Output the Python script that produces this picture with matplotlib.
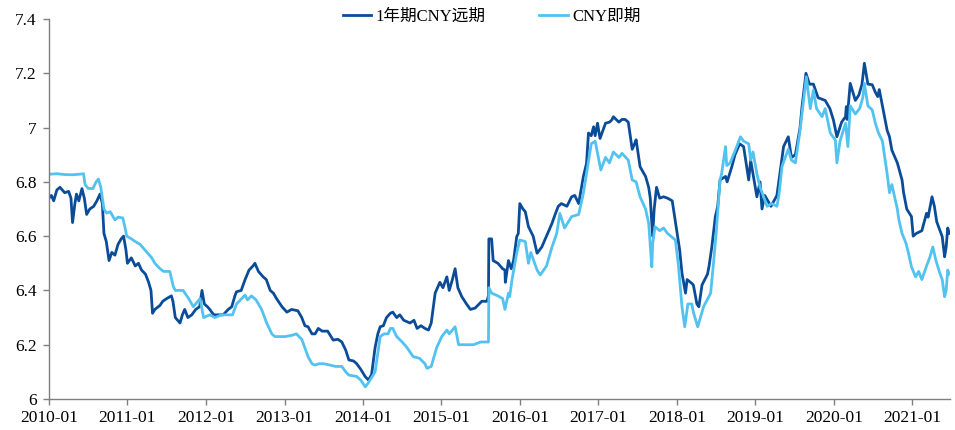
import numpy as np
import pandas as pd
import matplotlib
matplotlib.use('Agg')
import matplotlib.pyplot as plt
import matplotlib.dates as mdates

# values (decimal year, CNY per USD)
fwd_t = [2010.00, 2010.03, 2010.06, 2010.10, 2010.14, 2010.20, 2010.25, 2010.28, 2010.30, 2010.33,
         2010.35, 2010.38, 2010.42, 2010.45, 2010.48, 2010.52, 2010.57, 2010.61, 2010.65, 2010.68,
         2010.70, 2010.73, 2010.765, 2010.80, 2010.84, 2010.88, 2010.92, 2010.95, 2010.98, 2011.00,
         2011.05, 2011.10, 2011.14, 2011.18, 2011.23, 2011.27, 2011.30, 2011.32, 2011.35, 2011.415,
         2011.45, 2011.50, 2011.56, 2011.58, 2011.61, 2011.64, 2011.67, 2011.70, 2011.73, 2011.77,
         2011.82, 2011.87, 2011.92, 2011.95, 2011.98, 2012.02, 2012.05, 2012.10, 2012.16, 2012.22,
         2012.285, 2012.33, 2012.37, 2012.39, 2012.45, 2012.50, 2012.55, 2012.60, 2012.625, 2012.67,
         2012.73, 2012.77, 2012.82, 2012.86, 2012.90, 2012.97, 2013.03, 2013.09, 2013.17, 2013.22,
         2013.26, 2013.30, 2013.35, 2013.39, 2013.43, 2013.48, 2013.55, 2013.62, 2013.68, 2013.73,
         2013.78, 2013.82, 2013.88, 2013.92, 2013.97, 2014.03, 2014.07, 2014.11, 2014.155, 2014.19,
         2014.22, 2014.26, 2014.30, 2014.35, 2014.38, 2014.43, 2014.47, 2014.52, 2014.60, 2014.65,
         2014.69, 2014.74, 2014.79, 2014.835, 2014.87, 2014.92, 2014.98, 2015.02, 2015.07, 2015.10,
         2015.14, 2015.175, 2015.21, 2015.26, 2015.32, 2015.37, 2015.43, 2015.515, 2015.58, 2015.60,
         2015.605, 2015.64, 2015.66, 2015.72, 2015.78, 2015.81, 2015.815, 2015.855, 2015.89, 2015.92,
         2015.96, 2015.98, 2016.00, 2016.04, 2016.07, 2016.11, 2016.17, 2016.22, 2016.28, 2016.34,
         2016.41, 2016.45, 2016.49, 2016.53, 2016.60, 2016.66, 2016.70, 2016.75, 2016.81, 2016.85,
         2016.875, 2016.91, 2016.94, 2016.96, 2016.99, 2017.02, 2017.09, 2017.14, 2017.17, 2017.19,
         2017.26, 2017.30, 2017.34, 2017.38, 2017.43, 2017.46, 2017.48, 2017.53, 2017.60, 2017.64,
         2017.66, 2017.69, 2017.71, 2017.74, 2017.78, 2017.83, 2017.88, 2017.94, 2017.99, 2018.035,
         2018.065, 2018.11, 2018.13, 2018.19, 2018.21, 2018.255, 2018.28, 2018.32, 2018.39, 2018.41,
         2018.445, 2018.49, 2018.52, 2018.55, 2018.62, 2018.64, 2018.70, 2018.74, 2018.80, 2018.85,
         2018.915, 2018.94, 2019.02, 2019.06, 2019.085, 2019.12, 2019.20, 2019.275, 2019.36, 2019.42,
         2019.46, 2019.51, 2019.57, 2019.595, 2019.645, 2019.69, 2019.74, 2019.80, 2019.89, 2019.95,
         2019.995, 2020.04, 2020.10, 2020.15, 2020.16, 2020.17, 2020.21, 2020.275, 2020.32, 2020.36,
         2020.39, 2020.435, 2020.49, 2020.53, 2020.56, 2020.58, 2020.62, 2020.68, 2020.71, 2020.74,
         2020.81, 2020.87, 2020.89, 2020.93, 2020.99, 2021.01, 2021.05, 2021.12, 2021.18, 2021.20,
         2021.25, 2021.28, 2021.31, 2021.38, 2021.41, 2021.43, 2021.45, 2021.47]
fwd_v = [6.74, 6.75, 6.73, 6.77, 6.78, 6.76, 6.765, 6.74, 6.65, 6.72,
         6.755, 6.73, 6.775, 6.74, 6.68, 6.70, 6.71, 6.73, 6.755, 6.72,
         6.61, 6.58, 6.51, 6.54, 6.53, 6.57, 6.59, 6.60, 6.55, 6.50,
         6.52, 6.49, 6.50, 6.475, 6.46, 6.43, 6.40, 6.316, 6.33, 6.345,
         6.36, 6.37, 6.38, 6.36, 6.30, 6.29, 6.28, 6.31, 6.33, 6.30,
         6.31, 6.33, 6.34, 6.40, 6.35, 6.34, 6.33, 6.31, 6.31, 6.31,
         6.33, 6.34, 6.38, 6.395, 6.40, 6.44, 6.475, 6.49, 6.50, 6.47,
         6.45, 6.44, 6.40, 6.39, 6.37, 6.34, 6.32, 6.33, 6.325, 6.30,
         6.27, 6.266, 6.24, 6.24, 6.26, 6.25, 6.25, 6.217, 6.22, 6.21,
         6.18, 6.144, 6.14, 6.13, 6.11, 6.082, 6.07, 6.09, 6.19, 6.24,
         6.266, 6.27, 6.30, 6.316, 6.32, 6.30, 6.31, 6.29, 6.28, 6.29,
         6.26, 6.27, 6.26, 6.254, 6.28, 6.39, 6.43, 6.41, 6.45, 6.40,
         6.44, 6.48, 6.41, 6.377, 6.35, 6.33, 6.335, 6.36, 6.36, 6.38,
         6.59, 6.59, 6.51, 6.50, 6.48, 6.475, 6.43, 6.51, 6.48, 6.51,
         6.598, 6.61, 6.72, 6.70, 6.69, 6.635, 6.60, 6.537, 6.56, 6.60,
         6.647, 6.68, 6.71, 6.72, 6.71, 6.745, 6.75, 6.72, 6.82, 6.868,
         6.98, 6.97, 7.003, 6.97, 7.016, 6.96, 7.016, 7.02, 7.028, 7.04,
         7.02, 7.03, 7.03, 7.02, 6.92, 6.94, 6.955, 6.856, 6.82, 6.78,
         6.74, 6.60, 6.70, 6.78, 6.74, 6.745, 6.74, 6.73, 6.635, 6.55,
         6.463, 6.39, 6.44, 6.426, 6.42, 6.35, 6.34, 6.42, 6.46, 6.49,
         6.56, 6.672, 6.71, 6.807, 6.82, 6.80, 6.856, 6.90, 6.94, 6.93,
         6.807, 6.88, 6.745, 6.80, 6.70, 6.75, 6.71, 6.75, 6.93, 6.966,
         6.89, 6.90, 7.00, 7.077, 7.20, 7.16, 7.16, 7.11, 7.10, 7.07,
         7.028, 6.966, 7.02, 7.04, 7.077, 7.03, 7.163, 7.10, 7.12, 7.16,
         7.237, 7.16, 7.158, 7.13, 7.114, 7.14, 7.08, 6.99, 6.966, 6.917,
         6.87, 6.807, 6.76, 6.70, 6.672, 6.60, 6.61, 6.62, 6.684, 6.67,
         6.745, 6.71, 6.653, 6.598, 6.524, 6.56, 6.63, 6.61]

spot_t = [2010.00, 2010.10, 2010.20, 2010.30, 2010.38, 2010.44, 2010.46, 2010.50, 2010.56, 2010.60,
          2010.63, 2010.66, 2010.70, 2010.735, 2010.78, 2010.84, 2010.88, 2010.94, 2010.97, 2010.99,
          2011.05, 2011.10, 2011.16, 2011.22, 2011.28, 2011.31, 2011.35, 2011.415, 2011.46, 2011.54,
          2011.585, 2011.61, 2011.71, 2011.78, 2011.84, 2011.925, 2011.97, 2012.05, 2012.115, 2012.20,
          2012.28, 2012.34, 2012.39, 2012.50, 2012.53, 2012.58, 2012.64, 2012.71, 2012.775, 2012.84,
          2012.88, 2012.95, 2013.01, 2013.10, 2013.15, 2013.22, 2013.30, 2013.35, 2013.39, 2013.44,
          2013.50, 2013.58, 2013.65, 2013.73, 2013.78, 2013.82, 2013.92, 2013.97, 2014.03, 2014.07,
          2014.155, 2014.22, 2014.27, 2014.32, 2014.35, 2014.38, 2014.43, 2014.50, 2014.56, 2014.64,
          2014.72, 2014.79, 2014.815, 2014.87, 2014.94, 2015.005, 2015.07, 2015.10, 2015.175, 2015.22,
          2015.30, 2015.41, 2015.50, 2015.60, 2015.605, 2015.64, 2015.72, 2015.78, 2015.81, 2015.855,
          2015.87, 2015.90, 2015.96, 2016.00, 2016.07, 2016.11, 2016.14, 2016.22, 2016.26, 2016.34,
          2016.41, 2016.47, 2016.51, 2016.57, 2016.66, 2016.75, 2016.81, 2016.87, 2016.91, 2016.96,
          2017.03, 2017.09, 2017.14, 2017.19, 2017.26, 2017.30, 2017.38, 2017.43, 2017.48, 2017.53,
          2017.60, 2017.64, 2017.68, 2017.69, 2017.72, 2017.78, 2017.83, 2017.88, 2017.98, 2018.02,
          2018.065, 2018.10, 2018.14, 2018.19, 2018.21, 2018.265, 2018.30, 2018.34, 2018.43, 2018.47,
          2018.50, 2018.55, 2018.57, 2018.62, 2018.635, 2018.68, 2018.72, 2018.745, 2018.81, 2018.85,
          2018.915, 2018.94, 2018.97, 2019.02, 2019.06, 2019.10, 2019.15, 2019.21, 2019.275, 2019.30,
          2019.34, 2019.38, 2019.42, 2019.46, 2019.51, 2019.57, 2019.615, 2019.65, 2019.70, 2019.74,
          2019.78, 2019.85, 2019.89, 2019.955, 2020.02, 2020.04, 2020.08, 2020.15, 2020.18, 2020.21,
          2020.275, 2020.33, 2020.37, 2020.39, 2020.435, 2020.49, 2020.53, 2020.57, 2020.62, 2020.68,
          2020.71, 2020.74, 2020.81, 2020.83, 2020.87, 2020.92, 2020.95, 2020.99, 2021.04, 2021.08,
          2021.12, 2021.18, 2021.22, 2021.26, 2021.30, 2021.35, 2021.38, 2021.41, 2021.43, 2021.45,
          2021.47]
spot_v = [6.828, 6.830, 6.827, 6.826, 6.828, 6.830, 6.79, 6.776, 6.775, 6.80,
          6.81, 6.78, 6.70, 6.685, 6.69, 6.66, 6.67, 6.667, 6.63, 6.60,
          6.59, 6.58, 6.57, 6.55, 6.53, 6.52, 6.50, 6.48, 6.47, 6.47,
          6.414, 6.40, 6.40, 6.37, 6.34, 6.37, 6.30, 6.31, 6.30, 6.31,
          6.31, 6.31, 6.35, 6.383, 6.365, 6.38, 6.365, 6.33, 6.28, 6.24,
          6.23, 6.23, 6.23, 6.235, 6.24, 6.22, 6.156, 6.13, 6.125, 6.13,
          6.13, 6.125, 6.12, 6.12, 6.10, 6.088, 6.083, 6.07, 6.045, 6.06,
          6.10, 6.23, 6.24, 6.24, 6.26, 6.26, 6.23, 6.21, 6.19, 6.156,
          6.15, 6.13, 6.113, 6.12, 6.19, 6.23, 6.254, 6.24, 6.266, 6.20,
          6.20, 6.20, 6.21, 6.21, 6.41, 6.39, 6.38, 6.37, 6.33, 6.39,
          6.377, 6.44, 6.537, 6.586, 6.58, 6.50, 6.54, 6.475, 6.457, 6.49,
          6.56, 6.61, 6.684, 6.63, 6.672, 6.68, 6.758, 6.868, 6.94, 6.95,
          6.844, 6.89, 6.87, 6.91, 6.89, 6.905, 6.88, 6.807, 6.80, 6.745,
          6.70, 6.647, 6.487, 6.57, 6.635, 6.62, 6.63, 6.61, 6.586, 6.49,
          6.34, 6.266, 6.35, 6.35, 6.32, 6.266, 6.30, 6.34, 6.39, 6.512,
          6.61, 6.807, 6.83, 6.93, 6.86, 6.87, 6.90, 6.917, 6.966, 6.95,
          6.94, 6.88, 6.91, 6.83, 6.78, 6.75, 6.71, 6.72, 6.71, 6.75,
          6.856, 6.89, 6.92, 6.88, 6.87, 6.99, 7.10, 7.187, 7.07, 7.138,
          7.07, 7.04, 7.07, 6.98, 6.954, 6.87, 6.95, 7.016, 6.93, 7.08,
          7.05, 7.07, 7.11, 7.163, 7.08, 7.065, 7.016, 6.98, 6.95, 6.83,
          6.76, 6.79, 6.70, 6.66, 6.61, 6.574, 6.54, 6.487, 6.45, 6.47,
          6.44, 6.49, 6.52, 6.56, 6.51, 6.463, 6.44, 6.377, 6.40, 6.475,
          6.46]

labels = ['1年期CNY远期', 'CNY即期']
colors = ['#0b4c99', '#52c2f0']
y_ticks = [6, 6.2, 6.4, 6.6, 6.8, 7, 7.2, 7.4]
y_tick_labels = ['6', '6.2', '6.4', '6.6', '6.8', '7', '7.2', '7.4']
years = list(range(2010, 2022))


def to_dates(t):
    out = []
    for v in t:
        yr = int(np.floor(v))
        out.append(pd.Timestamp(yr, 1, 1) + pd.Timedelta(days=(v - yr) * 365.25))
    return out


fig = plt.figure(figsize=(9.55, 4.30), dpi=100)
ax = fig.add_axes([0.0513, 0.0721, 0.9437, 0.8837])

ax.plot(to_dates(fwd_t), fwd_v, color=colors[0], lw=2.0, label=labels[0])
ax.plot(to_dates(spot_t), spot_v, color=colors[1], lw=2.0, label=labels[1])

ax.set_ylim(6, 7.4)
ax.set_yticks(y_ticks)
ax.set_yticklabels(y_tick_labels)
ax.set_xlim(pd.Timestamp(2010, 1, 1), pd.Timestamp(2021, 6, 26))
ax.set_xticks([pd.Timestamp(y, 1, 1) for y in years])
ax.xaxis.set_major_formatter(mdates.DateFormatter('%Y-%m'))

for s in ['top', 'right']:
    ax.spines[s].set_visible(False)
for s in ['left', 'bottom']:
    ax.spines[s].set_color('#7f7f7f')
    ax.spines[s].set_linewidth(1.0)
ax.tick_params(axis='both', direction='out', length=4, width=1.0, color='#7f7f7f',
               labelsize=12.5, labelcolor='#000000')
for lab in ax.get_xticklabels() + ax.get_yticklabels():
    lab.set_family('Liberation Serif')
ax.tick_params(axis='x', pad=4)
ax.tick_params(axis='y', pad=5)

leg = fig.legend(loc='center', bbox_to_anchor=(0.515, 0.96), ncol=2, frameon=False,
                 handlelength=1.7, handletextpad=0.3, columnspacing=3.2,
                 prop={'family': ['Liberation Serif', 'Noto Sans CJK SC'], 'size': 12})

fig.savefig('out.png', dpi=100)
